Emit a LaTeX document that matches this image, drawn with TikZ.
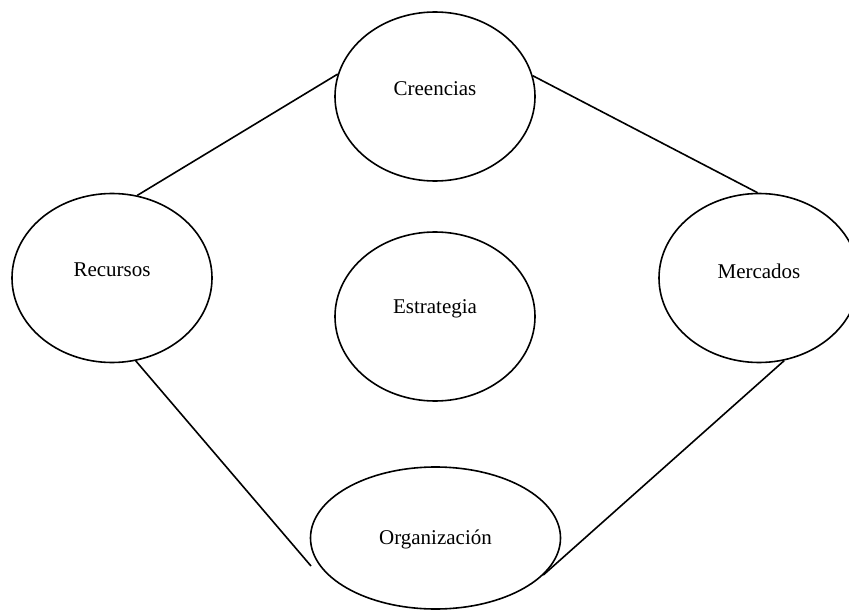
\documentclass[tikz,border=0pt]{standalone}
\usepackage{fontspec}
\setmainfont{Liberation Serif}
\usetikzlibrary{shapes.geometric}
\begin{document}
\begin{tikzpicture}[x=1pt,y=-1pt,
  ell/.style={ellipse, draw, line width=1.6pt, minimum width=200pt, minimum height=169pt, inner sep=0pt},
  conn/.style={line width=1.6pt},
  txt/.style={anchor=base, font=\fontsize{21}{25}\selectfont, inner sep=0pt}]
\useasboundingbox (0,0) rectangle (849,610);
\clip (0,0) rectangle (849,610);
\node[ell, label={[txt, name=creT, yshift=7.5pt]center:Creencias}] (cre) at (435,96.5) {};
\node[ell, label={[txt, name=recT, yshift=8pt]center:Recursos}] (rec) at (112,278) {};
\node[ell, label={[txt, name=estT, yshift=7.5pt]center:Estrategia}] (est) at (435,316.5) {};
\node[ell, label={[txt, name=merT, yshift=7pt]center:Mercados}] (mer) at (759,278) {};
\node[ell, minimum width=250pt, minimum height=142pt, label={[txt, name=orgT, yshift=-1pt]center:Organización}] (org) at (435.5,538) {};
\coordinate (orgL) at (311,566);
\draw[conn] (rec.73.6) -- (cre.167.7);
\draw[conn] (cre.12.7) -- (mer.91);
\draw[conn] (rec.-74.2) -- (orgL);
\draw[conn] (mer.-73) -- (org.-19);
\end{tikzpicture}
\end{document}
